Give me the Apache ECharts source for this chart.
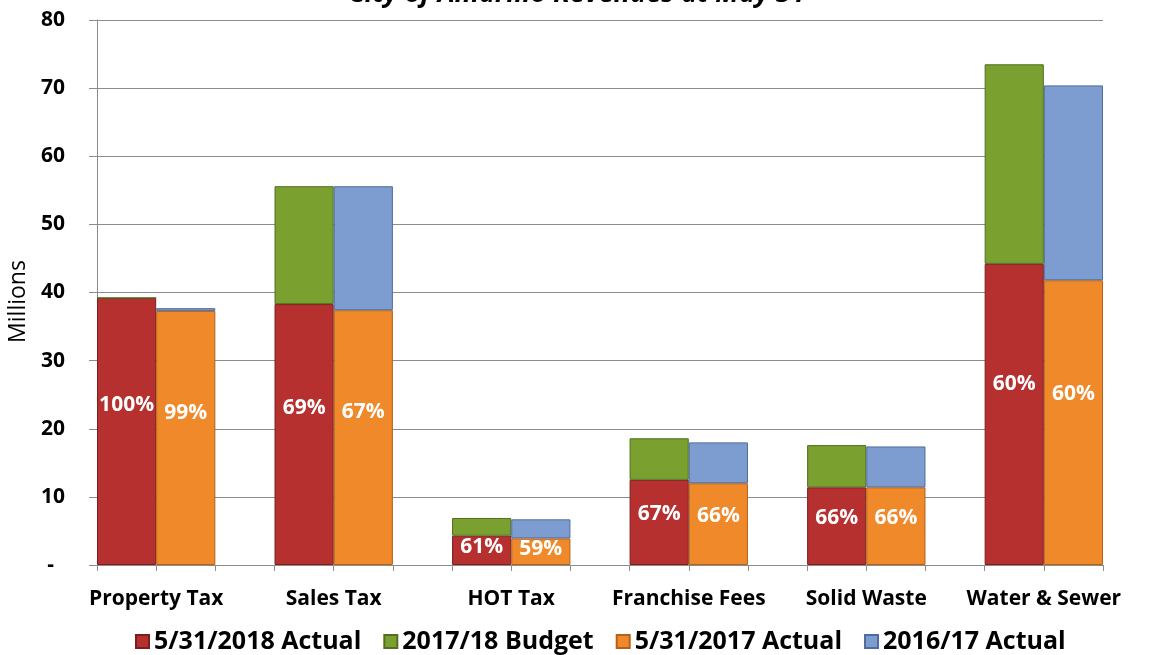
<!DOCTYPE html>
<html>
<head>
<meta charset="utf-8">
<script src="https://cdn.jsdelivr.net/npm/echarts@6/dist/echarts.min.js"></script>
<style>
  html, body { margin: 0; padding: 0; background: #fff; }
  #chart { width: 1154px; height: 655px; }
</style>
</head>
<body>
<div id="chart"></div>
<script>
const categories = ['Property Tax', 'Sales Tax', 'HOT Tax', 'Franchise Fees', 'Solid Waste', 'Water & Sewer'];
const actual2018 = [39.2, 38.3, 4.3, 12.5, 11.4, 44.2];
const budget1718 = [39.2, 55.6, 6.9, 18.6, 17.6, 73.5];
const actual2017 = [37.3, 37.4, 3.9, 12.0, 11.4, 41.8];
const actual1617 = [37.7, 55.6, 6.7, 18.0, 17.4, 70.4];
const pct2018 = ['100%', '69%', '61%', '67%', '66%', '60%'];
const pct2017 = ['99%', '67%', '59%', '66%', '66%', '60%'];
const seriesNames = ['5/31/2018 Actual', '2017/18 Budget', '5/31/2017 Actual', '2016/17 Actual'];

// excel-style layout: each group takes 2 bar slots + 1 empty slot (none after the last)
const slotCount = categories.length * 3 - 1;
const slotNames = [];
for (let i = 0; i < slotCount; i++) slotNames.push('s' + i);

const toSlots = (values, offset) => {
    const out = new Array(slotCount).fill(null);
    values.forEach((v, i) => { out[i * 3 + offset] = v; });
    return out;
};
const diff = (a, b) => a.map((v, i) => Math.max(0, +(v - b[i]).toFixed(2)));

const font = '"Open Sans", Lato, sans-serif';

const pctLabel = (list) => ({
    show: true,
    position: ['50%', '40%'],
    align: 'center',
    verticalAlign: 'middle',
    color: '#fff',
    fontWeight: 'bold',
    fontSize: 21,
    fontFamily: font,
    formatter: (p) => list[Math.floor(p.dataIndex / 3)]
});

const chart = echarts.init(document.getElementById('chart'));

chart.setOption({
    animation: false,
    title: {
        text: 'City of Amarillo Revenues at May 31',
        left: 'center',
        top: -24,
        textStyle: { fontSize: 27, fontWeight: 'bold', fontStyle: 'italic', fontFamily: font, color: '#000' }
    },
    grid: { left: 97, right: 51, top: 20, bottom: 90, outerBoundsMode: 'none' },
    legend: {
        bottom: -4,
        left: 130,
        itemWidth: 13,
        itemHeight: 13,
        itemGap: 22,
        icon: 'rect',
        textStyle: { fontSize: 25, fontWeight: 'bold', fontFamily: font, color: '#000' },
        data: seriesNames
    },
    xAxis: [{
        type: 'category',
        data: slotNames,
        axisLine: { lineStyle: { color: '#8c8c8c' } },
        axisTick: { show: false },
        axisLabel: { show: false }
    }, {
        type: 'value',
        min: 0,
        max: slotCount,
        interval: 1,
        position: 'bottom',
        axisLine: { show: false },
        axisTick: { show: true, length: 6, lineStyle: { color: '#8c8c8c' } },
        splitLine: { show: false },
        axisLabel: {
            margin: 24,
            fontSize: 21,
            fontWeight: 'bold',
            fontFamily: font,
            color: '#000',
            formatter: (v) => (v % 3 === 1 ? categories[(v - 1) / 3] : '')
        }
    }],
    yAxis: {
        type: 'value',
        min: 0,
        max: 80,
        interval: 10,
        name: 'Millions',
        nameLocation: 'middle',
        nameGap: 64,
        nameTextStyle: { fontSize: 23, fontFamily: font, color: '#000', padding: [0, 18, 0, 0] },
        axisLine: { show: true, lineStyle: { color: '#8c8c8c' } },
        axisTick: { show: true, length: 8, lineStyle: { color: '#8c8c8c' } },
        splitLine: { lineStyle: { color: '#8c8c8c' } },
        axisLabel: {
            margin: 32,
            fontSize: 21,
            fontWeight: 'bold',
            fontFamily: font,
            color: '#000',
            formatter: (v) => (v === 0 ? '-  ' : v)
        }
    },
    series: [{
        name: seriesNames[0],
        type: 'bar',
        stack: 'total',
        barCategoryGap: '0%',
        data: toSlots(actual2018, 0),
        itemStyle: { color: '#B5302F', borderColor: '#7a1f1f', borderWidth: 1 },
        label: pctLabel(pct2018)
    }, {
        name: seriesNames[1],
        type: 'bar',
        stack: 'total',
        data: toSlots(diff(budget1718, actual2018), 0),
        itemStyle: { color: '#7AA02F', borderColor: '#536f1f', borderWidth: 1 }
    }, {
        name: seriesNames[2],
        type: 'bar',
        stack: 'total',
        data: toSlots(actual2017, 1),
        itemStyle: { color: '#F0892A', borderColor: '#b3621a', borderWidth: 1 },
        label: pctLabel(pct2017)
    }, {
        name: seriesNames[3],
        type: 'bar',
        stack: 'total',
        data: toSlots(diff(actual1617, actual2017), 1),
        itemStyle: { color: '#7D9DD1', borderColor: '#4f6c9c', borderWidth: 1 }
    }]
});
</script>
</body>
</html>
